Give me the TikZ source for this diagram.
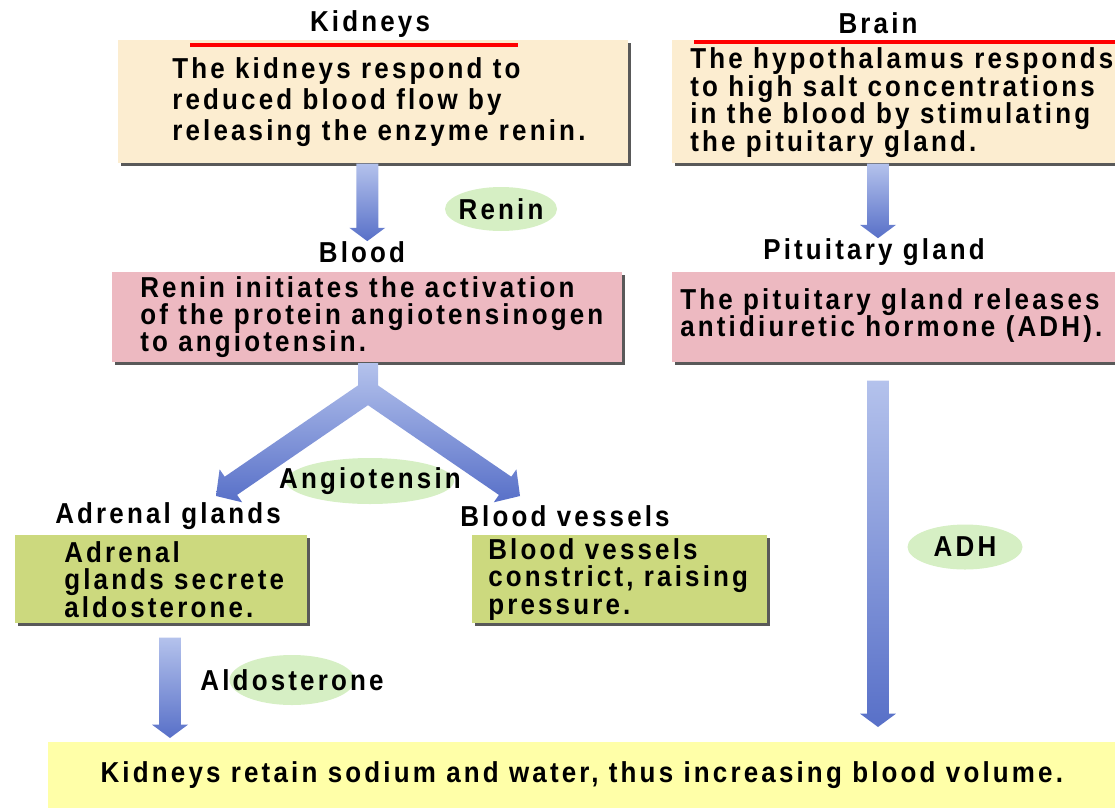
\documentclass[tikz,border=0pt]{standalone}
\usepackage{fontspec}
\setmainfont{Liberation Sans}[FakeStretch=0.9, LetterSpace=11]
\usetikzlibrary{shapes.geometric, shadows, calc, positioning}
\definecolor{peach}{HTML}{FCEDD0}
\definecolor{rose}{HTML}{EDB9C1}
\definecolor{olivebox}{HTML}{CCD97E}
\definecolor{lemon}{HTML}{FFFFA8}
\definecolor{hormonegreen}{HTML}{D6EFC4}
\definecolor{arrowtop}{HTML}{B4C2EC}
\definecolor{arrowbot}{HTML}{5870C8}
\def\px{0.025cm}
\newcommand{\tightlines}{\lineskiplimit-100pt\relax}

\tikzset{
  every node/.style={font=\fontsize{20.5}{22}\selectfont\bfseries},
  organ/.style={inner sep=0},
  infobox/.style={rectangle, inner sep=0, anchor=north west,
    drop shadow={shadow xshift=2pt, shadow yshift=-2pt, fill=black!65, opacity=1}},
  boxsize/.style 2 args={minimum width=#1*\px, minimum height=#2*\px},
  boxtext/.style={anchor=west, align=left, inner sep=0,
    font={\fontsize{20.5}{#1}\selectfont\bfseries\tightlines}},
  hormone/.style 2 args={ellipse, fill=hormonegreen, inner sep=0,
    minimum width=#1*\px, minimum height=#2*\px},
  redline/.style={draw=red, line width=2.8pt},
  flowshade/.style={top color=arrowtop, bottom color=arrowbot, draw=none},
}

% shaded block arrow pointing down, from #1 to the height of #2
\newcommand{\flowdown}[2]{%
  \shade[flowshade] let \p1=(#1), \p2=(#2) in
    (\x1-7.8pt,\y1) -- (\x1+7.8pt,\y1) -- (\x1+7.8pt,\y2+9.5pt) -- (\x1+12.8pt,\y2+9.5pt)
    -- (\x1,\y2) -- (\x1-12.8pt,\y2+9.5pt) -- (\x1-7.8pt,\y2+9.5pt) -- cycle;}

\begin{document}
\begin{tikzpicture}[x=\px, y=-\px]
  \useasboundingbox (0,0) rectangle (1115,808);

  % Kidneys
  \node[organ] (kidlbl) at (370,24) {Kidneys};
  \node[infobox, boxsize={510}{123}, fill=peach] (kid) at (118,40) {};
  \draw[redline] (190,45) -- (518,45);
  \node[boxtext=22pt] (kidtxt) at ($(kid.west)+(54,0)$)
    {The kidneys respond to\\reduced blood flow by\\releasing the enzyme renin.};

  % Brain
  \node[organ] (brainlbl) at (878,23) {Brain};
  \node[infobox, boxsize={443}{123}, fill=peach] (brain) at (672,40) {};
  \draw[redline] (694,42) -- (1115,42);
  \node[boxtext=19.6pt] (braintxt) at ($(brain.west)+(18,1)$)
    {The hypothalamus responds\\to high salt concentrations\\in the blood by stimulating\\the pituitary gland.};

  % Blood
  \node[organ] (bloodlbl) at (362,252) {Blood};
  \node[infobox, boxsize={510}{90}, fill=rose] (blood) at (112,272) {};
  \node[boxtext=19pt] (bloodtxt) at ($(blood.west)+(28,0)$)
    {Renin initiates the activation\\of the protein angiotensinogen\\to angiotensin.};

  % Pituitary gland
  \node[organ] (pitlbl) at (874,252) {Pituitary gland};
  \node[infobox, boxsize={443}{90}, fill=rose] (pit) at (672,272) {};
  \node[boxtext=19pt] (pittxt) at ($(pit.west)+(8,-2)$)
    {The pituitary gland releases\\antidiuretic hormone (ADH).};

  % Adrenal glands and blood vessels
  \node[organ] (adrlbl) at (168,516) {Adrenal glands};
  \node[infobox, boxsize={292}{88}, fill=olivebox] (adr) at (15,535) {};
  \node[boxtext=19.5pt] (adrtxt) at ($(adr.west)+(49,0)$)
    {Adrenal\\glands secrete\\aldosterone.};
  \node[organ] (veslbl) at (565,516) {Blood vessels};
  \node[infobox, boxsize={295}{88}, fill=olivebox] (ves) at (472,535) {};
  \node[boxtext=19.5pt] (vestxt) at ($(ves.west)+(16,0)$)
    {Blood vessels\\constrict, raising\\pressure.};

  % Result
  \node[rectangle, fill=lemon, inner sep=0, anchor=north west, boxsize={1067}{66}] (result) at (48,742)
    {Kidneys retain sodium and water, thus increasing blood volume.};

  % Arrows
  \flowdown{$(kid.south)+(-6,0)$}{bloodlbl.north}
  \flowdown{$(brain.south -| pitlbl)+(4,0)$}{pitlbl.north}
  \flowdown{$(pit.south -| pitlbl)+(4,18)$}{$(result.north -| pitlbl)+(4,-15)$}
  \flowdown{$(adr.south -| adrlbl)+(2,14)$}{$(result.north -| adrlbl)+(2,-4)$}
  % fork below the blood box
  \shade[flowshade] (358,363) -- (358,385.4) -- (224.7,476.7) -- (219.6,469.3) -- (216,496)
    -- (242.2,502.3) -- (237.1,494.9) -- (368,405.2) -- (498.9,494.9) -- (493.8,502.3)
    -- (520,496) -- (516.4,469.3) -- (511.3,476.7) -- (378,385.4) -- (378,363) -- cycle;

  % Hormones
  \node[hormone={112}{44}, label=center:Renin] (renin) at (501,209) {};
  \node[hormone={168}{46}, label=center:Angiotensin] (angio) at (370,481) {};
  \node[hormone={125}{50}, label=center:Aldosterone] (aldo) at (292,680) {};
  \node[hormone={115}{45}, label=center:ADH] (adh) at (965,547) {};
\end{tikzpicture}
\end{document}
